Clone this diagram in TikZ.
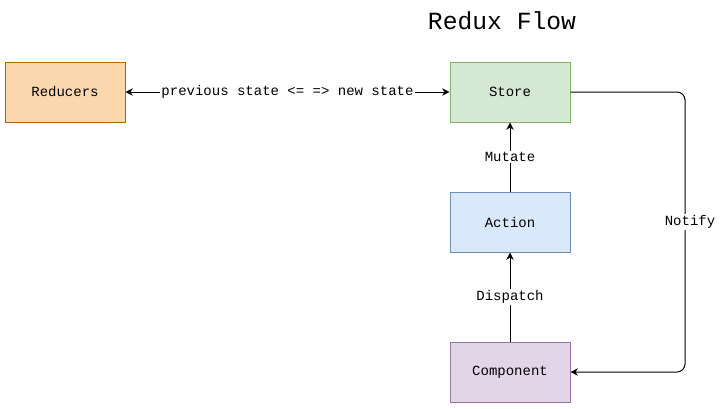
\documentclass[tikz,border=0pt]{standalone}
\usepackage{fontspec}
\setmonofont{Liberation Mono}
\usetikzlibrary{arrows.meta}
\definecolor{reducerfill}{HTML}{FAD7AC}
\definecolor{reducerline}{HTML}{B46504}
\definecolor{storefill}{HTML}{D5E8D4}
\definecolor{storeline}{HTML}{82B366}
\definecolor{actionfill}{HTML}{DAE8FC}
\definecolor{actionline}{HTML}{6C8EBF}
\definecolor{compfill}{HTML}{E1D5E7}
\definecolor{compline}{HTML}{9673A6}

\begin{document}
\begin{tikzpicture}[x=0.75pt,y=-0.75pt,
    box/.style={draw, line width=0.75pt, minimum width=90pt, minimum height=45pt,
        font=\ttfamily\fontsize{10.5}{12}\selectfont},
    flow/.style={line width=0.75pt, -{Stealth[length=5.5pt,width=5.5pt,inset=1.8pt]}},
    edgelabel/.style={fill=white, inner sep=1pt, font=\ttfamily\fontsize{10.5}{12}\selectfont}]
    \useasboundingbox (0,0) rectangle (720,408);
    \node[font=\ttfamily\fontsize{18.5}{20}\selectfont] (title) at (502,21) {Redux Flow};

    \node[box, fill=reducerfill, draw=reducerline] (reducers) at (65,92) {Reducers};
    \node[box, fill=storefill, draw=storeline] (store) at (510,92) {Store};
    \node[box, fill=actionfill, draw=actionline] (action) at (510,222) {Action};
    \node[box, fill=compfill, draw=compline] (component) at (510,372) {Component};
    \coordinate (notifyx) at (685,0);

    \draw[flow, {Stealth[length=5.5pt,width=5.5pt,inset=1.8pt]}-{Stealth[length=5.5pt,width=5.5pt,inset=1.8pt]}]
        (reducers) -- node[edgelabel] {previous state <= => new state} (store);
    \draw[flow] (action) -- node[edgelabel] {Mutate} (store);
    \draw[flow] (component) -- node[edgelabel] {Dispatch} (action);
    \draw[flow, rounded corners=6pt] (store.east) -| (notifyx |- action.east)
        node[edgelabel, xshift=3.75pt] {Notify} |- (component.east);
\end{tikzpicture}
\end{document}
